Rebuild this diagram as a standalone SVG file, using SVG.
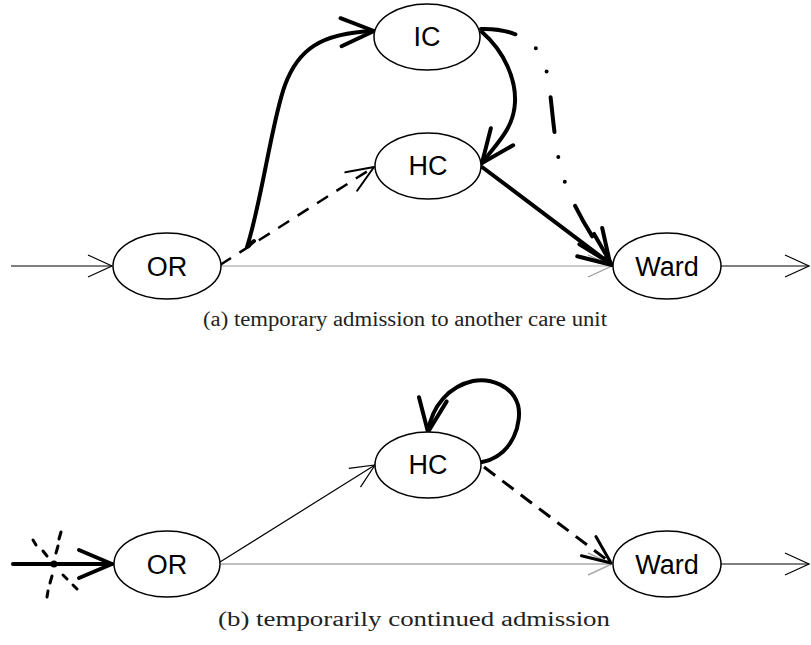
<svg xmlns="http://www.w3.org/2000/svg" width="811" height="645" viewBox="0 0 811 645">
<style>
.node ellipse{fill:#fff;stroke:#000;stroke-width:1.5}
.node text{font-family:"Liberation Sans",Arial,sans-serif;font-size:27px;text-anchor:middle;fill:#000}
.cap{font-family:"Liberation Serif","DejaVu Serif",serif;font-size:20px;fill:#222}
.e{fill:none;stroke:#000;stroke-linecap:round;stroke-linejoin:round}
.thin{stroke-width:1.2;stroke-linecap:butt}
.gray{stroke:#999;stroke-width:1.2;stroke-linecap:butt}
.gray2{stroke:#aaa;stroke-width:1.4;stroke-linecap:butt}
.thick{stroke-width:4}
.dash{stroke-width:2.5;stroke-dasharray:13 10;stroke-linecap:butt}
.dash3{stroke-width:3;stroke-dasharray:14 9;stroke-linecap:butt}
.dashdot{stroke-width:4;stroke-dasharray:35 25 0 26 0 26}
</style>
<defs>
<marker id="aThin" markerUnits="userSpaceOnUse" orient="auto" overflow="visible" refX="0" refY="0" markerWidth="1" markerHeight="1">
<path d="M-24,-11 L0,0 L-24,11" fill="none" stroke="#000" stroke-width="1.2"/>
</marker>
<marker id="aGray" markerUnits="userSpaceOnUse" orient="auto" overflow="visible" refX="0" refY="0" markerWidth="1" markerHeight="1">
<path d="M-24,-11 L0,0 L-24,11" fill="none" stroke="#999" stroke-width="1.2"/>
</marker>
<marker id="aGray2" markerUnits="userSpaceOnUse" orient="auto" overflow="visible" refX="0" refY="0" markerWidth="1" markerHeight="1">
<path d="M-24,-11 L0,0 L-24,11" fill="none" stroke="#aaa" stroke-width="1.4"/>
</marker>
<marker id="aDash" markerUnits="userSpaceOnUse" orient="auto" overflow="visible" refX="0" refY="0" markerWidth="1" markerHeight="1">
<path d="M-27,-11 L0,0 L-27,11" fill="none" stroke="#000" stroke-width="2" stroke-linecap="round" stroke-linejoin="round"/>
</marker>
<marker id="aDash3" markerUnits="userSpaceOnUse" orient="auto" overflow="visible" refX="0" refY="0" markerWidth="1" markerHeight="1">
<path d="M-28,-12 L0,0 L-28,12" fill="none" stroke="#000" stroke-width="3" stroke-linecap="round" stroke-linejoin="round"/>
</marker>
<marker id="aThick" markerUnits="userSpaceOnUse" orient="auto" overflow="visible" refX="0" refY="0" markerWidth="1" markerHeight="1">
<path d="M-33,-14 L0,0 L-33,14" fill="none" stroke="#000" stroke-width="4" stroke-linecap="round" stroke-linejoin="round"/>
</marker>
</defs>

<g id="connectors-a">
<line class="e thin" x1="11" y1="266" x2="112" y2="266" marker-end="url(#aThin)"/>
<line class="e gray" x1="221" y1="266" x2="612" y2="266" marker-end="url(#aGray)"/>
<line class="e thin" x1="721" y1="266" x2="809" y2="266" marker-end="url(#aThin)"/>
<line class="e dash" x1="220" y1="265" x2="374" y2="167" marker-end="url(#aDash)"/>
<path class="e thick" d="M254,241 L247,247 C262,200 272,120 285,85 C298,50 320,33 374,31" marker-end="url(#aThick)"/>
<path class="e thick" d="M482,32 C505,52 516,80 515,102 C514,128 498,142 482,163" marker-end="url(#aThick)"/>
<path class="e dashdot" d="M481,29 C515,28 538,42 545,65 C552,90 552,130 560,165 C566,195 590,235 610,263" marker-end="url(#aThick)"/>
<line class="e thick" x1="482" y1="167" x2="612" y2="265" marker-end="url(#aThick)"/>
</g>

<g id="OR-a" class="node"><ellipse cx="167" cy="266" rx="54" ry="33"/><text x="167" y="276">OR</text></g>
<g id="IC-a" class="node"><ellipse cx="427" cy="37" rx="53" ry="33"/><text x="427" y="46">IC</text></g>
<g id="HC-a" class="node"><ellipse cx="428" cy="166" rx="53" ry="33"/><text x="428" y="175">HC</text></g>
<g id="Ward-a" class="node"><ellipse cx="667" cy="266" rx="54" ry="33"/><text x="667" y="276">Ward</text></g>

<text class="cap" x="405" y="326" text-anchor="middle" textLength="404" lengthAdjust="spacingAndGlyphs">(a) temporary admission to another care unit</text>

<g id="connectors-b">
<line class="e thick" x1="13" y1="564" x2="112" y2="564" marker-end="url(#aThick)"/>
<g class="e" stroke-width="3">
<line x1="33" y1="540" x2="36" y2="545"/>
<line x1="43" y1="551" x2="47" y2="556"/>
<line x1="63" y1="575" x2="67" y2="579"/>
<line x1="73" y1="585" x2="77" y2="589"/>
<line x1="61" y1="532" x2="59" y2="539"/>
<line x1="58" y1="546" x2="56" y2="553"/>
<line x1="52" y1="576" x2="50" y2="583"/>
<line x1="48" y1="591" x2="47" y2="597"/>
</g>
<circle cx="54" cy="564" r="3.5" fill="#000"/>
<line class="e gray2" x1="221" y1="564" x2="612" y2="564" marker-end="url(#aGray2)"/>
<line class="e thin" x1="721" y1="564" x2="809" y2="564" marker-end="url(#aThin)"/>
<line class="e thin" x1="220" y1="562" x2="375" y2="465" marker-end="url(#aThin)"/>
<path class="e thick" d="M482,462 C515,455 522,420 518,405 C512,385 490,378 473,381 C450,386 432,405 428,432" marker-end="url(#aThick)"/>
<line class="e dash3" x1="484" y1="467" x2="611" y2="563" marker-end="url(#aDash3)"/>
</g>

<g id="OR-b" class="node"><ellipse cx="167" cy="564" rx="53" ry="33"/><text x="167" y="574">OR</text></g>
<g id="HC-b" class="node"><ellipse cx="428" cy="465" rx="53" ry="33"/><text x="428" y="474">HC</text></g>
<g id="Ward-b" class="node"><ellipse cx="667" cy="564" rx="54" ry="33"/><text x="667" y="574">Ward</text></g>

<text class="cap" x="414" y="626" text-anchor="middle" textLength="392" lengthAdjust="spacingAndGlyphs">(b) temporarily continued admission</text>
</svg>
